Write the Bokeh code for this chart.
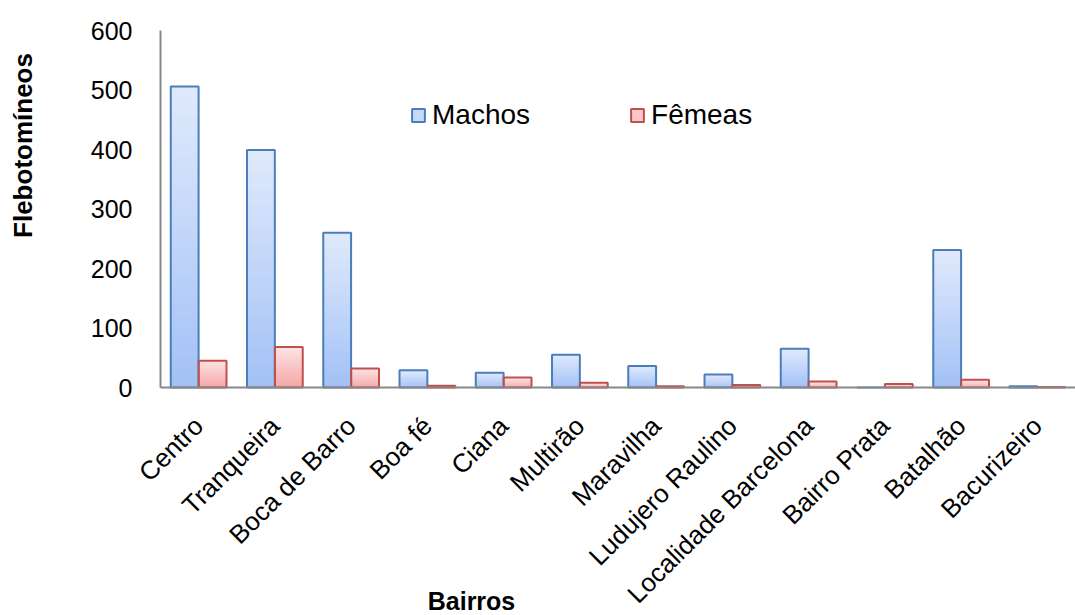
import numpy as np
from bokeh.plotting import figure
from bokeh.models import (ColumnDataSource, Label, Legend, LegendItem, FixedTicker,
                          LinearAxis, Range1d)
from bokeh.embed import file_html
from bokeh.resources import INLINE
import math

bairros = ["Centro", "Tranqueira", "Boca de Barro", "Boa fé", "Ciana", "Multirão",
           "Maravilha", "Ludujero Raulino", "Localidade Barcelona", "Bairro Prata",
           "Batalhão", "Bacurizeiro"]
machos = [506, 399, 260, 29, 25, 55, 36, 22, 65, 0, 231, 2]
femeas = [45, 68, 32, 3, 17, 8, 2, 4, 10, 6, 13, 1]
y_ticks = [0, 100, 200, 300, 400, 500, 600]

FONT = "Liberation Sans"

# canvas geometry (pixels): plot area left=160, right=1075, top=30, bottom(y=0)=387
CW, CH = 1075, 615
PL, PR, PT, PB = 160, 1075, 30, 387
ncat = len(bairros)
ymax = y_ticks[-1]
upx = ncat / (PR - PL)          # x units per pixel
vpx = ymax / (PB - PT)          # y units per pixel
x_range = Range1d(-PL * upx, ncat + (CW - PR) * upx)
y_range = Range1d(-(CH - PB) * vpx, ymax + PT * vpx)

p = figure(x_range=x_range, y_range=y_range, width=CW, height=CH,
           output_backend="svg", toolbar_location=None,
           min_border=0, x_axis_type=None, y_axis_type=None)
p.outline_line_color = None
p.grid.grid_line_color = None
p.background_fill_color = "white"

centers = np.arange(ncat) + 0.5
W = 0.365
off = 0.183

def hex2rgb(h):
    h = h.lstrip("#")
    return np.array([int(h[i:i + 2], 16) for i in (0, 2, 4)], dtype=float)

def gradient_source(xpos, vals, c_bottom, c_top, n=30):
    xs, bots, tops, cols = [], [], [], []
    cb, ct = hex2rgb(c_bottom), hex2rgb(c_top)
    for xc, v in zip(xpos, vals):
        for k in range(n):
            f = (k + 0.5) / n
            c = cb + (ct - cb) * f
            xs.append(xc)
            bots.append(v * k / n)
            tops.append(v * min(k + 1.8, n) / n)
            cols.append("#%02x%02x%02x" % tuple(int(round(t)) for t in c))
    return ColumnDataSource(dict(x=xs, bottom=bots, top=tops, color=cols))

src_m = gradient_source(centers - off, machos, "#a3c1f6", "#e0eafc")
src_f = gradient_source(centers + off, femeas, "#f6a5a5", "#fde4e4")
p.vbar(x="x", bottom="bottom", top="top", width=W, source=src_m,
       fill_color="color", line_color=None)
p.vbar(x="x", bottom="bottom", top="top", width=W, source=src_f,
       fill_color="color", line_color=None)

main = ColumnDataSource(dict(xm=centers - off, xf=centers + off, m=machos, f=femeas))
p.vbar(x="xm", top="m", width=W, source=main,
       fill_alpha=0.0, line_color="#4a7ebb", line_width=2)
p.vbar(x="xf", top="f", width=W, source=main,
       fill_alpha=0.0, line_color="#c0504d", line_width=2)

# legend proxies (far outside the visible ranges)
lm = p.vbar(x=[500], top=[-5000], bottom=[-6000], width=0.3,
            fill_color="#c8dafa", line_color="#4a7ebb", line_width=2)
lf = p.vbar(x=[500], top=[-5000], bottom=[-6000], width=0.3,
            fill_color="#fbc6c6", line_color="#c0504d", line_width=2)
legend = Legend(items=[LegendItem(label="Machos", renderers=[lm]),
                       LegendItem(label="Fêmeas", renderers=[lf])],
                orientation="horizontal", location=(410, CH - 131),
                label_text_font=FONT, label_text_font_size="28px",
                label_text_color="#000000", glyph_width=16, glyph_height=16,
                label_standoff=6, spacing=99, padding=0, margin=0,
                border_line_color=None, background_fill_alpha=0)
p.add_layout(legend, "center")

# axes drawn at fixed data locations
xaxis = LinearAxis(fixed_location=0, bounds=(0, ncat),
                   ticker=FixedTicker(ticks=list(centers)),
                   major_label_overrides={float(c): b for c, b in zip(centers, bairros)},
                   major_label_orientation=math.pi / 4, major_label_standoff=28)
yaxis = LinearAxis(fixed_location=0, bounds=(0, ymax),
                   ticker=FixedTicker(ticks=y_ticks), major_label_standoff=22)
for ax in (xaxis, yaxis):
    ax.axis_line_color = "#888888"
    ax.axis_line_width = 2
    ax.major_tick_line_color = None
    ax.minor_tick_line_color = None
    ax.major_label_text_font = FONT
    ax.major_label_text_color = "#000000"
yaxis.major_label_text_font_size = "25px"
xaxis.major_label_text_font_size = "26px"
p.add_layout(xaxis, "below")
p.add_layout(yaxis, "left")

p.add_layout(Label(x=471, y=CH - 600, x_units="screen", y_units="screen", text="Bairros",
                   text_font=FONT, text_font_size="25px", text_font_style="bold",
                   text_color="#000000", text_align="center", text_baseline="middle"))
p.add_layout(Label(x=22, y=CH - 145, x_units="screen", y_units="screen", text="Flebotomíneos",
                   text_font=FONT, text_font_size="26px", text_font_style="bold",
                   text_color="#000000", text_align="center", text_baseline="middle",
                   angle=math.pi / 2))

open("out.html", "w").write(file_html(p, INLINE))
